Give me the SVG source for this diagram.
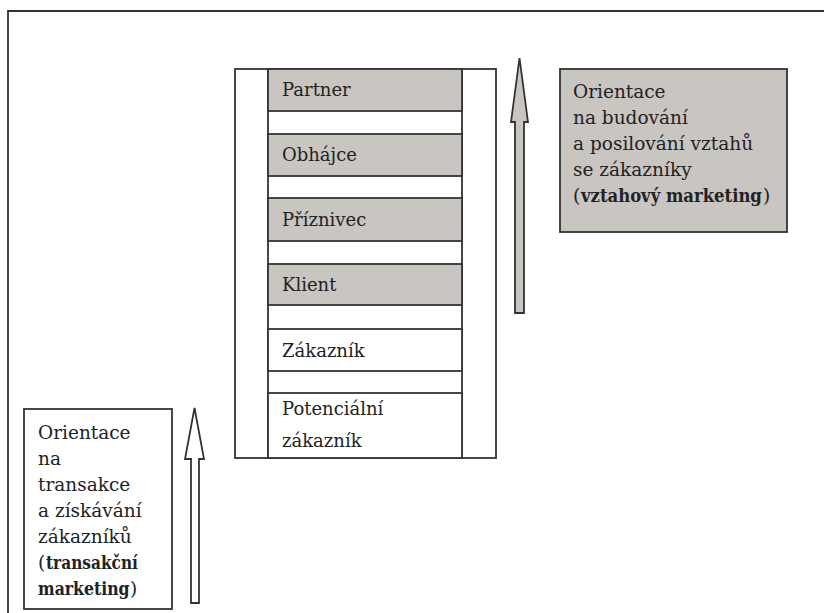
<svg xmlns="http://www.w3.org/2000/svg" width="824" height="613" viewBox="0 0 824 613">
<style>
  .t { font-family: "DejaVu Serif", "Liberation Serif", serif; font-size: 18px; fill: #222; }
  .bt { font-family: "DejaVu Serif", "Liberation Serif", serif; font-size: 18.5px; fill: #222; }
  .b { font-weight: bold; }
  .grey { fill: #c9c5c1; stroke: #333; stroke-width: 1.8; }
  .white { fill: #ffffff; stroke: #333; stroke-width: 1.8; }
  .ln { stroke: #333; stroke-width: 1.8; fill: none; }
</style>
<rect x="0" y="0" width="824" height="613" fill="#ffffff"/>
<g id="frame">
  <path class="ln" d="M8,613 L8,11 L824,11" stroke-width="2.2"/>
</g>
<g id="ladder">
  <rect class="white" x="235" y="69" width="261" height="389"/>
  <line class="ln" x1="268" y1="69" x2="268" y2="458"/>
  <line class="ln" x1="462" y1="69" x2="462" y2="458"/>
</g>
<g id="partner">
  <rect class="grey" x="268" y="69" width="194" height="42"/>
  <text class="t" x="282" y="96">Partner</text>
</g>
<g id="obhajce">
  <rect class="grey" x="268" y="134" width="194" height="42"/>
  <text class="t" x="282" y="161">Obhájce</text>
</g>
<g id="priznivec">
  <rect class="grey" x="268" y="198" width="194" height="43"/>
  <text class="t" x="282" y="226">Příznivec</text>
</g>
<g id="klient">
  <rect class="grey" x="268" y="264" width="194" height="41"/>
  <text class="t" x="282" y="291">Klient</text>
</g>
<g id="zakaznik">
  <rect class="white" x="268" y="329" width="194" height="42"/>
  <text class="t" x="282" y="357">Zákazník</text>
</g>
<g id="potencialni">
  <rect class="white" x="268" y="393" width="194" height="65"/>
  <text class="t" x="282" y="415">Potenciální</text>
  <text class="t" x="282" y="447">zákazník</text>
</g>
<g id="vztahovy">
  <rect class="grey" x="560" y="69" width="227" height="163"/>
  <text class="bt" x="573" y="98">Orientace</text>
  <text class="bt" x="573" y="124">na budování</text>
  <text class="bt" x="573" y="150">a posilování vztahů</text>
  <text class="bt" x="573" y="176">se zákazníky</text>
  <text class="bt" x="573" y="202">(</text>
  <text class="bt b" transform="translate(581,202) scale(0.89,1)">vztahový marketing</text>
  <text class="bt" x="763" y="202">)</text>
</g>
<g id="transakcni">
  <rect class="white" x="24" y="409" width="148" height="200"/>
  <text class="bt" x="38" y="439">Orientace</text>
  <text class="bt" x="38" y="465">na</text>
  <text class="bt" x="38" y="491">transakce</text>
  <text class="bt" x="38" y="517">a získávání</text>
  <text class="bt" x="38" y="543">zákazníků</text>
  <text class="bt" x="38" y="569">(</text>
  <text class="bt b" transform="translate(46,569) scale(0.83,1)">transakční</text>
  <text class="bt b" transform="translate(38,595) scale(0.85,1)">marketing</text>
  <text class="bt" x="130" y="595">)</text>
</g>
<g id="connectors">
  <polygon class="grey" points="519.5,58 528,122 524,122 524,313 515,313 515,122 511,122"/>
  <polygon class="white" points="194.5,408 204,459 199,459 199,603 191,603 191,459 185,459"/>
</g>
</svg>
